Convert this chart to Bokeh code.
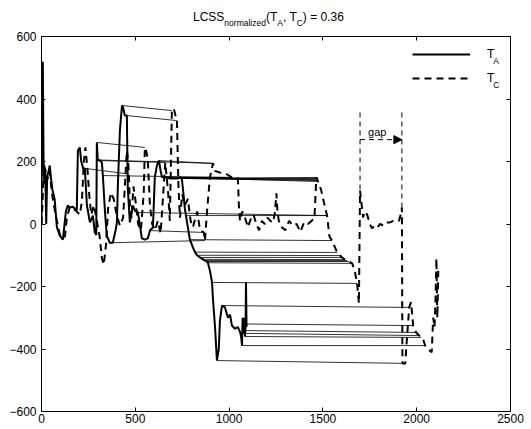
from bokeh.plotting import figure
from bokeh.layouts import column
from bokeh.models import (Range1d, FixedTicker, LinearAxis, Label, Arrow, NormalHead,
                          Legend, LegendItem, Div, CustomJSTickFormatter)
from bokeh.embed import file_html
from bokeh.resources import INLINE

# ---------------- data ----------------
ta_x = [0, 4, 7, 11, 15, 20, 25, 30, 38, 44, 50, 58, 70, 82, 98, 114, 130, 140, 151, 167, 188,
        194, 204, 212, 222, 231, 242, 258, 274, 284, 292, 295, 300, 311, 322, 327, 338, 348, 364,
        380, 395, 402, 407, 418, 429, 434, 444, 455, 460, 471, 487, 498, 514, 535, 551, 567, 578,
        594, 604, 615, 626, 635, 642, 658, 684, 700, 711, 727, 738, 748, 756, 764, 770, 781, 791,
        807, 818, 829, 845, 861, 871, 880, 887, 898, 909, 914, 925, 935, 945, 951, 962, 978, 994,
        1005, 1015, 1031, 1047, 1058, 1064, 1069, 1072, 1075, 1079, 1082, 1085, 1088, 1090, 1093]
ta_y = [0, 515, 518, 200, 130, 175, 0, 150, 170, 187, 150, 110, 80, -10, -37, -50, 40, 59, 53, 55, 43,
        235, 245, 200, 178, 178, 60, 5, 27, -27, -35, 261, 205, 203, 197, 155, 43, -37, -60,
        -60, -20, 5, 123, 300, 379, 375, 347, 347, 114, 5, 59, 43, 37, -46, -50, -46, -21,
        -11, 150, 187, 203, 170, 150, 149, 146, 146, 146, 146, 149, 146, 100, 50, 27, -14, -50,
        -75, -90, -100, -107, -113, -117, -120, -124, -150, -187, -240, -330, -437, -400, -310, -261, -267, -300,
        -290, -325, -335, -330, -345, -360, -389, -300, -341, -350, -300, -360, -320, -187, -330]

tc_x = [0, 5, 12, 20, 30, 44, 55, 66, 82, 98, 114, 125, 135, 151, 167, 188, 204, 215, 226, 234, 245,
        255, 265, 280, 295, 310, 322, 332, 345, 355, 370, 385, 400, 418, 435, 447, 455, 462, 466,
        471, 480, 490, 500, 515, 530, 545, 551, 560, 567, 578, 590, 605, 620, 635, 647, 655, 660,
        675, 684, 690, 695, 705, 715, 722, 730, 738, 750, 764, 780, 795, 807, 830, 845, 865, 871,
        885, 898, 914, 925, 950, 985, 1015, 1030, 1047, 1052, 1058, 1070, 1085, 1100, 1115, 1130,
        1145, 1160, 1175, 1190, 1205, 1220, 1235, 1245, 1252, 1258, 1265, 1280, 1300, 1320, 1340,
        1360, 1380, 1400, 1420, 1440, 1455, 1465, 1469, 1474, 1490, 1505, 1522, 1535, 1549, 1576,
        1592, 1602, 1618, 1629, 1640, 1656, 1670, 1682, 1692, 1698, 1704, 1714, 1725, 1736, 1750,
        1762, 1775, 1789, 1805, 1821, 1840, 1858, 1875, 1890, 1905, 1915, 1921, 1924, 1939, 1944,
        1950, 1960, 1970, 1981, 1997, 2013, 2024, 2035, 2045, 2060, 2080, 2088, 2095, 2100, 2105,
        2110, 2115]
tc_y = [0, 60, 190, 175, 140, 170, 100, 60, 10, -35, -45, -40, 20, 55, 50, 40, 30, 70, 200, 245, 175,
        90, 30, 60, 10, -40, -110, -130, -60, 50, 100, 80, 30, -5, 20, 150, 235, 200, 160,
        60, 20, 120, 80, 0, -20, 100, 245, 230, 200, 60, 0, -20, 10, -30, 80, 155, 197,
        100, 10, 200, 363, 370, 345, 331, 120, 20, 95, 60, 80, 10, -10, 40, -20, -27, -53,
        60, 150, 194, 170, 165, 160, 149, 150, 146, 60, 10, 40, 20, -10, 15, 30,
        0, -20, 10, 0, 20, 10, 5, 40, 98, 40, 10, -10, -20, 10, -5,
        0, -25, 5, 0, 10, 20, 149, 146, 136, 110, 70, 27, -40, -53, -91,
        -101, -107, -114, -117, -120, -126, -150, -190, -254, 107, 75, 21, 40, 30, 0,
        -14, -5, -11, 0, -5, 5, 5, 10, 11, 10, 30, 53, -446, -446, -400,
        -350, -267, -250, -325, -347, -357, -363, -370, -389, -400, -410, -300, -330, -250, -110,
        -300, -150]

# matched pairs (T_A point -> T_C point)
match_xa = [295, 429, 455, 300, 231, 311, 626, 327, 658, 642, 684, 700, 711, 727, 738, 748,
            514, 770, 791, 578, 364, 818, 829, 845, 861, 871, 880, 887, 909, 962, 935,
            1088, 1075, 1079, 1085, 1069]
match_ya = [261, 379, 347, 205, 178, 203, 203, 155, 149, 150, 146, 146, 146, 146, 149, 146,
            37, 27, -50, -21, -60, -90, -100, -107, -113, -117, -120, -124, -187, -261, -437,
            -320, -341, -350, -360, -389]
match_xc = [551, 695, 722, 914, 466, 660, 914, 1015, 1015, 1047, 1469, 1469, 1469, 1474, 1474, 1469,
            1522, 1522, 1549, 865, 871, 1576, 1592, 1602, 1618, 1629, 1640, 1656, 1682, 1960, 1939,
            1981, 1997, 2013, 2024, 2045]
match_yc = [245, 363, 331, 194, 160, 197, 194, 149, 149, 146, 149, 146, 142, 139, 136, 144,
            27, 27, -53, -27, -53, -91, -101, -107, -114, -117, -120, -126, -190, -267, -446,
            -325, -347, -357, -363, -389]

x_ticks = [0, 500, 1000, 1500, 2000, 2500]
y_ticks = [-600, -400, -200, 0, 200, 400, 600]
lcss_value = "0.36"

# "gap" annotation (annotation geometry, not data)
gap_left, gap_right = 1698, 1921
gap_top, gap_arrow_y = 357, 270
gap_left_bottom, gap_right_bottom = 107, 53

FONT = "Liberation Sans"
TITLE_H = 26

p = figure(width=531, height=429 - TITLE_H, x_range=Range1d(0, 2500), y_range=Range1d(-600, 600),
           output_backend="svg", toolbar_location=None,
           min_border_left=41, min_border_right=21, min_border_top=36 - TITLE_H,
           min_border_bottom=18)
p.background_fill_color = "white"
p.border_fill_color = "white"
p.outline_line_color = "black"
p.outline_line_width = 1
p.xgrid.visible = False
p.ygrid.visible = False

def style_axis(ax, ticks, show_labels):
    ax.ticker = FixedTicker(ticks=ticks)
    ax.major_tick_in = 4
    ax.major_tick_out = 0
    ax.minor_tick_line_color = None
    ax.axis_line_color = "black"
    ax.major_tick_line_color = "black"
    ax.major_label_text_font = FONT
    ax.major_label_text_color = "black"
    if show_labels:
        ax.major_label_text_font_size = "12px"
    else:
        ax.formatter = CustomJSTickFormatter(code="return ''")
        ax.major_label_text_font_size = "1px"
        ax.major_label_standoff = 0

style_axis(p.xaxis[0], x_ticks, True)
style_axis(p.yaxis[0], y_ticks, True)
p.xaxis[0].major_label_standoff = 2
p.yaxis[0].major_label_standoff = 5

top_ax = LinearAxis()
right_ax = LinearAxis()
style_axis(top_ax, x_ticks, False)
style_axis(right_ax, y_ticks, False)
p.add_layout(top_ax, "above")
p.add_layout(right_ax, "right")

# matching lines
p.segment(x0=match_xa, y0=match_ya, x1=match_xc, y1=match_yc,
          line_color="black", line_width=0.8)

ra = p.line(ta_x, ta_y, line_color="black", line_width=2)
rc = p.line(tc_x, tc_y, line_color="black", line_width=2, line_dash="7 5")

# gap annotation
p.segment(x0=[gap_left, gap_right], y0=[gap_top, gap_top],
          x1=[gap_left, gap_right], y1=[gap_left_bottom, gap_right_bottom],
          line_color="black", line_width=1, line_dash="5 4")
p.add_layout(Arrow(x_start=gap_left, y_start=gap_arrow_y, x_end=gap_right, y_end=gap_arrow_y,
                   line_color="black", line_width=1, line_dash="5 4",
                   end=NormalHead(size=8, fill_color="black", line_color="black")))
p.add_layout(Label(x=1741, y=293, text="gap", text_font=FONT, text_font_size="11px",
                   text_color="black", text_baseline="alphabetic"))

# legend
legend = Legend(items=[LegendItem(label="T", renderers=[ra]),
                       LegendItem(label="T", renderers=[rc])],
                location="top_right", margin=6, padding=6, spacing=0,
                glyph_width=58, glyph_height=24, label_height=24, label_width=17,
                label_standoff=17, label_text_font=FONT, label_text_font_size="12px",
                label_text_color="black",
                border_line_color=None, background_fill_alpha=0)
p.add_layout(legend)
p.add_layout(Label(x=2408, y=521, text="A", text_font=FONT, text_font_size="8.5px",
                   text_color="black", text_baseline="alphabetic"))
p.add_layout(Label(x=2408, y=445, text="C", text_font=FONT, text_font_size="8.5px",
                   text_color="black", text_baseline="alphabetic"))

# title with subscripts
sub = '<span style="font-size:8.5px;position:relative;top:5px">{}</span>'
title_html = ("LCSS" + sub.format("normalized") + "(T" + sub.format("A") + ", T" +
              sub.format("C") + ") = " + lcss_value)
title = Div(text=title_html, width=531, height=TITLE_H, margin=0,
            styles={"font-family": FONT, "font-size": "12px", "line-height": "12px",
                    "padding-top": "11px", "padding-left": "193px", "color": "black",
                    "white-space": "nowrap", "background-color": "white"})

layout = column(title, p, spacing=0, margin=0)
open("out.html", "w").write(file_html(layout, INLINE))
